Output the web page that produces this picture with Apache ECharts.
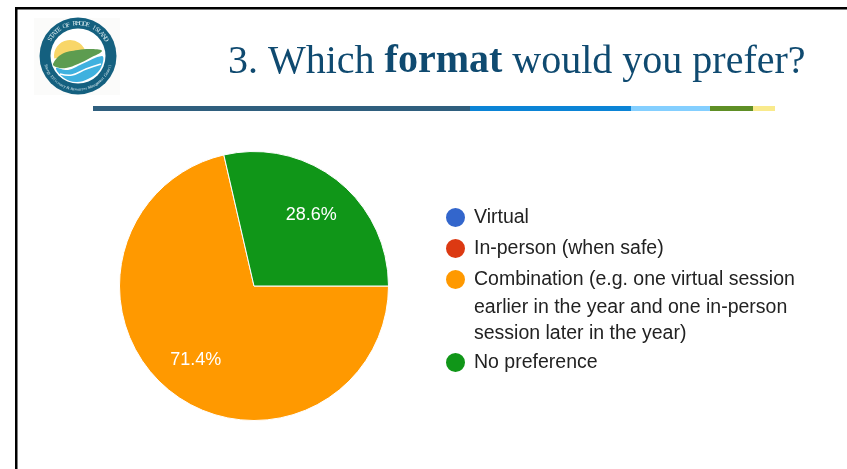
<!DOCTYPE html>
<html>
<head>
<meta charset="utf-8">
<style>
  html, body { margin: 0; padding: 0; background: #fff; }
  #chart { width: 847px; height: 469px; }
</style>
<script src="https://cdn.jsdelivr.net/npm/echarts@6/dist/echarts.min.js"></script>
</head>
<body>
<div id="chart"></div>
<script>
const categories = [
  'Virtual',
  'In-person (when safe)',
  'Combination (e.g. one virtual session\nearlier in the year and one in-person\nsession later in the year)',
  'No preference'
];
const shares = [0, 0, 71.4, 28.6];
const sliceColors = ['#3366cc', '#dc3912', '#ff9900', '#109618'];

const titleParts = ['3. Which ', 'format', ' would you prefer?'];
const sealTop = 'STATE OF RHODE ISLAND';
const sealBottom = 'Energy Efficiency & Resources Management Council';

const ruleStops = [93, 470, 631, 710, 753, 775];
const ruleColors = ['#2f5f7e', '#0b84d6', '#84cfff', '#5f8f25', '#f9ea8c'];

const FONT = '"Liberation Sans", Arial, sans-serif';
const SERIF = '"Liberation Serif", serif';
const pieData = categories.map((name, i) => ({ name, value: shares[i] }));

// 标题下方的彩色分隔线
const ruleGraphics = ruleColors.map((color, i) => ({
  type: 'rect',
  shape: { x: ruleStops[i], y: 106, width: ruleStops[i + 1] - ruleStops[i], height: 5 },
  style: { fill: color }
}));

// 图例折行的后两行
const extraLines = categories[2].split('\n').slice(1).map((line, i) => ({
  type: 'text',
  x: 474,
  y: 308 + i * 26,
  style: { text: line, fill: '#222', font: '19.5px ' + FONT, align: 'left', verticalAlign: 'middle' }
}));

// 徽章文字，逐字沿圆弧排列
const arcText = (text, cx, cy, r, fromDeg, toDeg, font, flip) =>
  text.split('').map((ch, i) => {
    const deg = fromDeg + (toDeg - fromDeg) * (i + 0.5) / text.length;
    const rad = deg * Math.PI / 180;
    return {
      type: 'text',
      x: cx + r * Math.cos(rad),
      y: cy - r * Math.sin(rad),
      rotation: rad + (flip ? Math.PI / 2 : -Math.PI / 2),
      style: { text: ch, fill: '#dcecf0', font, align: 'center', verticalAlign: 'middle' }
    };
  });

const cx = 78, cy = 56;
const sealGraphics = [
  { type: 'rect', shape: { x: 34, y: 18, width: 86, height: 77 }, style: { fill: '#fbfbfa' } },
  { type: 'circle', shape: { cx, cy, r: 38.5 }, style: { fill: '#14607f' } },
  { type: 'circle', shape: { cx, cy, r: 27.5 }, style: { fill: '#ffffff' } },
  { type: 'sector', shape: { cx: 70, cy: 56, r: 16, startAngle: Math.PI * 0.95, endAngle: Math.PI * 2.05 }, style: { fill: '#f8d668' } },
  {
    type: 'polygon',
    shape: { smooth: 0.4, points: [[53, 64], [62, 54], [78, 50], [92, 49], [102, 51], [90, 58], [78, 64], [66, 68], [56, 67]] },
    style: { fill: '#5d9c50' }
  },
  {
    type: 'polygon',
    shape: { smooth: 0.4, points: [[56, 68], [68, 70], [82, 64], [102, 56], [103, 62], [98, 72], [88, 79], [76, 82], [64, 78]] },
    style: { fill: '#3fb1df' }
  },
  {
    type: 'polyline',
    shape: { smooth: 0.4, points: [[60, 74], [72, 75], [86, 69], [101, 64]] },
    style: { stroke: '#ffffff', lineWidth: 1.5, fill: 'none' }
  },
  ...arcText(sealTop, cx, cy, 32.5, 152, 28, '6.5px ' + SERIF, false),
  ...arcText(sealBottom, cx, cy, 33.5, 195, 345, '4px ' + SERIF, true)
];

const myChart = echarts.init(document.getElementById('chart'), null, { renderer: 'canvas' });
myChart.setOption({
  animation: false,
  backgroundColor: '#fff',
  color: sliceColors,
  title: {
    text: `{n|${titleParts[0]}}{b|${titleParts[1]}}{n|${titleParts[2]}}`,
    left: 228,
    top: 42,
    padding: 0,
    textStyle: {
      fontWeight: 'normal',
      rich: {
        n: { fontFamily: SERIF, fontSize: 40, fontWeight: 'normal', color: '#0f4a70' },
        b: { fontFamily: SERIF, fontSize: 40, fontWeight: 'bold', color: '#0f4a70' }
      }
    }
  },
  legend: [
    {
      data: categories.slice(0, 3),
      orient: 'vertical',
      left: 444,
      top: 206,
      padding: 0,
      itemWidth: 21,
      itemHeight: 21,
      itemGap: 8,
      icon: 'circle',
      selectedMode: false,
      formatter: name => name.split('\n')[0],
      textStyle: { fontFamily: FONT, fontSize: 19.5, color: '#222', padding: [0, 0, 0, 3] }
    },
    {
      data: categories.slice(3),
      orient: 'vertical',
      left: 444,
      top: 351,
      padding: 0,
      itemWidth: 21,
      itemHeight: 21,
      icon: 'circle',
      selectedMode: false,
      textStyle: { fontFamily: FONT, fontSize: 19.5, color: '#222', padding: [0, 0, 0, 3] }
    }
  ],
  series: [
    {
      name: 'format',
      type: 'pie',
      center: [254, 286],
      radius: 134.5,
      startAngle: 0,
      clockwise: true,
      silent: true,
      data: pieData,
      itemStyle: { borderColor: '#fff', borderWidth: 1 },
      label: { show: false },
      labelLine: { show: false }
    },
    {
      // 只用来放百分比标签，位置比默认的扇形中点更靠外
      name: 'labels',
      type: 'pie',
      center: [254, 286],
      radius: [50, 134.5],
      startAngle: 0,
      clockwise: true,
      silent: true,
      percentPrecision: 1,
      data: pieData,
      itemStyle: { color: 'transparent', borderWidth: 0 },
      label: {
        show: true,
        position: 'inside',
        color: '#fff',
        fontFamily: FONT,
        fontSize: 18,
        formatter: p => (p.value > 0 ? p.percent.toFixed(1) + '%' : '')
      },
      labelLayout: p => (p.dataIndex === 3 ? { dx: -2, dy: 4 } : { dx: 1 }),
      labelLine: { show: false }
    }
  ],
  graphic: [
    // 页面边框
    { type: 'rect', shape: { x: 15, y: 7, width: 832, height: 2.5 }, style: { fill: '#000' } },
    { type: 'rect', shape: { x: 15, y: 7, width: 2.5, height: 462 }, style: { fill: '#000' } },
    ...ruleGraphics,
    ...sealGraphics,
    ...extraLines
  ]
});
</script>
</body>
</html>
